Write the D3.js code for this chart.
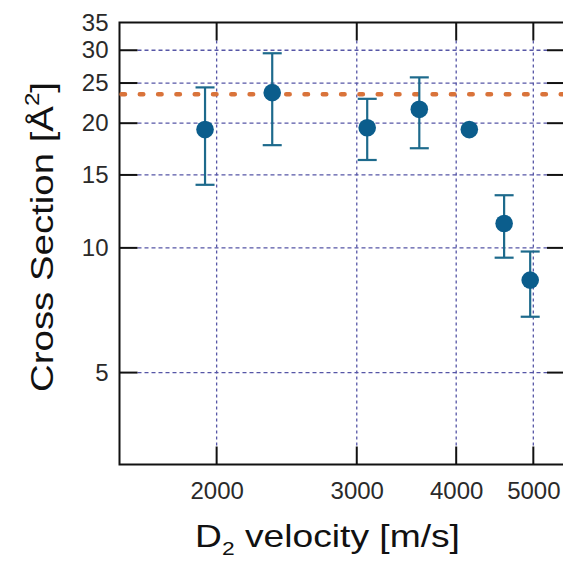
<!DOCTYPE html>
<html>
<head>
<meta charset="utf-8">
<script src="https://cdn.jsdelivr.net/npm/d3@7"></script>
<style>
  html, body { margin: 0; padding: 0; background: #fff; }
  svg { display: block; }
</style>
</head>
<body>
<script>
// Measured D2 scattering cross sections versus beam velocity
const velocity = [1934, 2349, 3092, 3595, 4155, 4595, 4955];
const crossSection = [19.3, 23.7, 19.5, 21.6, 19.3, 11.45, 8.36];
const errUpper = [24.4, 29.5, 22.9, 25.8, null, 13.4, 9.8];
const errLower = [14.2, 17.7, 16.3, 17.4, null, 9.47, 6.82];
const referenceValue = 23.5;
const xTicks = [2000, 3000, 4000, 5000];
const yTicks = [5, 10, 15, 20, 25, 30, 35];

const W = 563, H = 564;
const plotL = 119.5, plotR = 565, plotT = 22.5, plotB = 464.5;

const svg = d3.select("body").append("svg")
  .attr("width", W).attr("height", H);

const x = d3.scaleLog().domain([1510, 5480]).range([plotL, plotR]);
const y = d3.scaleLog().domain([3, 35]).range([plotB, plotT]);

const gridColor = "#5656a6";
const tickLen = 18;

// grid lines
const grid = svg.append("g");
grid.selectAll("line.hg").data(yTicks.filter(d => d < 35)).join("line")
  .attr("x1", plotL + tickLen).attr("x2", plotR - tickLen)
  .attr("y1", d => y(d)).attr("y2", d => y(d))
  .attr("stroke", gridColor).attr("stroke-width", 1.3)
  .attr("stroke-dasharray", "4,3");
grid.selectAll("line.vg").data(xTicks).join("line")
  .attr("x1", d => x(d)).attr("x2", d => x(d))
  .attr("y1", plotT + tickLen).attr("y2", plotB - tickLen)
  .attr("stroke", gridColor).attr("stroke-width", 1.3)
  .attr("stroke-dasharray", "3,3");

// axes with inward ticks
const tickFmt = d3.format("d");
const yAxisL = d3.axisLeft(y).tickValues(yTicks).tickSize(0).tickPadding(11).tickFormat(tickFmt);
const xAxisB = d3.axisBottom(x).tickValues(xTicks).tickSize(0).tickPadding(17).tickFormat(tickFmt);

const gy = svg.append("g").attr("transform", `translate(${plotL},0)`).call(yAxisL);
const gx = svg.append("g").attr("transform", `translate(0,${plotB})`).call(xAxisB);
[gx, gy].forEach(g => {
  g.select(".domain").remove();
  g.selectAll("text")
    .attr("font-family", "Liberation Sans, Arial, sans-serif")
    .attr("font-size", 24).attr("fill", "#2a2a2a");
});

const ticks = svg.append("g").attr("stroke", "#111").attr("stroke-width", 2);
yTicks.filter(d => d < 35).forEach(d => {
  ticks.append("line").attr("x1", plotL).attr("x2", plotL + tickLen).attr("y1", y(d)).attr("y2", y(d));
  ticks.append("line").attr("x1", plotR - tickLen).attr("x2", plotR).attr("y1", y(d)).attr("y2", y(d));
});
xTicks.forEach(d => {
  ticks.append("line").attr("x1", x(d)).attr("x2", x(d)).attr("y1", plotB).attr("y2", plotB - tickLen);
  ticks.append("line").attr("x1", x(d)).attr("x2", x(d)).attr("y1", plotT).attr("y2", plotT + tickLen);
});

// frame
svg.append("rect")
  .attr("x", plotL).attr("y", plotT)
  .attr("width", plotR - plotL).attr("height", plotB - plotT)
  .attr("fill", "none").attr("stroke", "#111").attr("stroke-width", 2);

// reference level
svg.append("line")
  .attr("x1", plotL + 2).attr("x2", plotR)
  .attr("y1", y(referenceValue)).attr("y2", y(referenceValue))
  .attr("stroke", "#d9733a").attr("stroke-width", 4.5)
  .attr("stroke-linecap", "round")
  .attr("stroke-dasharray", "3.5,14.8");

// error bars
const pts = velocity.map((v, i) => ({ v, c: crossSection[i], hi: errUpper[i], lo: errLower[i] }));
const eb = svg.append("g").attr("stroke", "#1d6a8c").attr("stroke-width", 2.2);
const capW = 9.5;
pts.filter(p => p.hi != null).forEach(p => {
  const cx = x(p.v);
  eb.append("line").attr("x1", cx).attr("x2", cx).attr("y1", y(p.hi)).attr("y2", y(p.lo));
  eb.append("line").attr("x1", cx - capW).attr("x2", cx + capW).attr("y1", y(p.hi)).attr("y2", y(p.hi));
  eb.append("line").attr("x1", cx - capW).attr("x2", cx + capW).attr("y1", y(p.lo)).attr("y2", y(p.lo));
});

// markers
svg.append("g").selectAll("circle").data(pts).join("circle")
  .attr("cx", d => x(d.v)).attr("cy", d => y(d.c)).attr("r", 8.8)
  .attr("fill", "#0b5d8c");

// axis titles
const labelFont = "Liberation Sans, Arial, sans-serif";
const xl = svg.append("text")
  .attr("transform", `translate(327.5,547) scale(1.2,1)`)
  .attr("text-anchor", "middle")
  .attr("font-family", labelFont).attr("font-size", 31).attr("fill", "#111");
xl.append("tspan").text("D");
xl.append("tspan").attr("font-size", 19).attr("dy", 8).text("2");
xl.append("tspan").attr("dy", -8).text(" velocity [m/s]");

const yl = svg.append("text")
  .attr("transform", `translate(53,237) rotate(-90) scale(1.2,1)`)
  .attr("text-anchor", "middle")
  .attr("font-family", labelFont).attr("font-size", 32).attr("fill", "#111");
yl.append("tspan").text("Cross Section [Å");
yl.append("tspan").attr("font-size", 20).attr("dy", -14).text("2");
yl.append("tspan").attr("dy", 14).text("]");
</script>
</body>
</html>
